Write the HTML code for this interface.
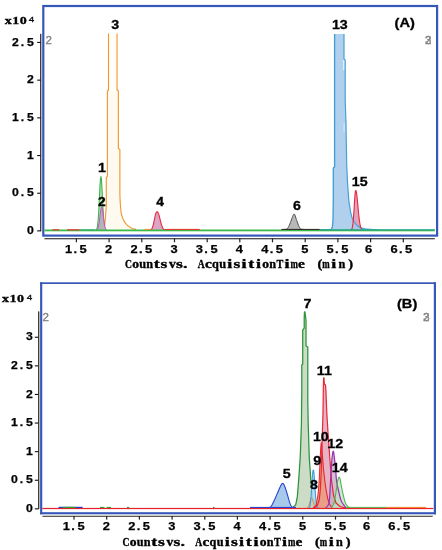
<!DOCTYPE html>
<html><head><meta charset="utf-8"><title>Chromatogram</title>
<style>
html,body{margin:0;padding:0;background:#fff}
#w{position:relative;width:442px;height:550px;overflow:hidden;background:#fff}
svg{display:block;position:absolute;left:0;top:0}
.t{position:absolute;line-height:0;height:0;white-space:pre;font-weight:bold;color:#000}
.s{font-family:"Liberation Sans",sans-serif;-webkit-text-stroke:0.3px currentColor}
.n{-webkit-text-stroke:0.25px #000}
.f{font-family:"Liberation Serif",serif;-webkit-text-stroke:0.35px #000}
.g{display:inline-block;width:4px;line-height:0;white-space:pre;overflow:visible}
</style>
</head><body>
<div id="w">
<svg width="442" height="550" viewBox="0 0 442 550">
<rect x="0" y="0" width="442" height="550" fill="#fff"/>
<rect x="43.3" y="6" width="393.8" height="229.6" fill="#fff" stroke="#3558b8" stroke-width="2.2"/>
<path d="M96.00,230.30 L103.50,229.80 L104.60,226.00 L105.40,218.00 L106.00,210.00 L106.30,204.00 L106.30,177.50 L107.40,176.50 L107.40,91.00 L118.35,91.00 L118.35,148.50 L119.90,149.50 L119.90,195.00 L120.30,204.00 L121.10,212.60 L122.50,218.00 L124.70,222.20 L127.00,225.00 L129.50,226.90 L132.00,228.50 L136.00,229.40 Z" fill="#fefaef"/>
<path d="M108.5,33.5 L108.5,90.5 L117.05,90.5 L117.05,33.5 Z" fill="#fffdf8"/>
<path d="M96.00,230.30 L103.50,229.80 L104.60,226.00 L105.40,218.00 L106.00,210.00 L106.30,204.00 L106.30,177.50 L107.40,176.50 L107.40,91.00 L108.50,90.00 L108.50,33.50" fill="none" stroke="#f0952a" stroke-width="1.1" stroke-linejoin="round"/>
<path d="M117.05,33.50 L117.05,90.00 L118.35,91.00 L118.35,148.50 L119.90,149.50 L119.90,195.00 L120.30,204.00 L121.10,212.60 L122.50,218.00 L124.70,222.20 L127.00,225.00 L129.50,226.90 L132.00,228.50 L136.00,229.40" fill="none" stroke="#f0952a" stroke-width="1.1" stroke-linejoin="round"/>
<path d="M95.50,230.22 L96.00,230.04 L96.50,229.57 L97.00,228.47 L97.50,226.18 L98.00,222.00 L98.50,215.34 L99.00,206.18 L99.50,195.50 L100.00,185.36 L100.50,178.38 L101.00,176.61 L101.50,180.38 L102.00,188.48 L102.50,198.72 L103.00,208.81 L103.50,217.12 L104.00,223.02 L104.50,226.67 L105.00,228.67 L105.50,229.64 L106.00,230.06 L106.00,230.30 L95.50,230.30 Z" fill="#b9e6b9" fill-opacity="1.0" stroke="none"/>
<path d="M95.50,230.22 L96.00,230.04 L96.50,229.57 L97.00,228.47 L97.50,226.18 L98.00,222.00 L98.50,215.34 L99.00,206.18 L99.50,195.50 L100.00,185.36 L100.50,178.38 L101.00,176.61 L101.50,180.38 L102.00,188.48 L102.50,198.72 L103.00,208.81 L103.50,217.12 L104.00,223.02 L104.50,226.67 L105.00,228.67 L105.50,229.64 L106.00,230.06" fill="none" stroke="#3cb44b" stroke-width="1.1" stroke-linejoin="round"/>
<path d="M95.84,230.26 L96.34,230.20 L96.84,230.02 L97.34,229.63 L97.84,228.83 L98.34,227.38 L98.84,225.04 L99.34,221.71 L99.84,217.58 L100.34,213.21 L100.84,209.49 L101.34,207.31 L101.84,207.23 L102.34,209.11 L102.84,212.44 L103.34,216.50 L103.84,220.52 L104.34,223.94 L104.84,226.51 L105.34,228.23 L105.84,229.26 L106.34,229.82 L106.84,230.10 L107.34,230.22 L107.34,230.30 L95.84,230.30 Z" fill="#b4b4b8" fill-opacity="1.0" stroke="none"/>
<path d="M95.84,230.26 L96.34,230.20 L96.84,230.02 L97.34,229.63 L97.84,228.83 L98.34,227.38 L98.84,225.04 L99.34,221.71 L99.84,217.58 L100.34,213.21 L100.84,209.49 L101.34,207.31 L101.84,207.23 L102.34,209.11 L102.84,212.44 L103.34,216.50 L103.84,220.52 L104.34,223.94 L104.84,226.51 L105.34,228.23 L105.84,229.26 L106.34,229.82 L106.84,230.10 L107.34,230.22" fill="none" stroke="#c850c8" stroke-width="1.0" stroke-linejoin="round"/>
<path d="M148.00,230.30 L148.50,230.29 L149.00,230.27 L149.50,230.23 L150.00,230.15 L150.50,229.99 L151.00,229.70 L151.50,229.21 L152.00,228.43 L152.50,227.29 L153.00,225.74 L153.50,223.78 L154.00,221.49 L154.50,219.02 L155.00,216.60 L155.50,214.49 L156.00,212.90 L156.50,211.97 L157.00,211.70 L157.50,211.88 L158.00,212.51 L158.50,213.62 L159.00,215.15 L159.50,216.99 L160.00,219.02 L160.50,221.08 L161.00,223.05 L161.50,224.81 L162.00,226.31 L162.50,227.51 L163.00,228.43 L163.50,229.10 L164.00,229.56 L164.50,229.86 L165.00,230.05 L165.50,230.17 L166.00,230.23 L166.50,230.27 L167.00,230.28 L167.50,230.29 L167.50,230.30 L148.00,230.30 Z" fill="#dca5c8" fill-opacity="1.0" stroke="none"/>
<path d="M148.00,230.30 L148.50,230.29 L149.00,230.27 L149.50,230.23 L150.00,230.15 L150.50,229.99 L151.00,229.70 L151.50,229.21 L152.00,228.43 L152.50,227.29 L153.00,225.74 L153.50,223.78 L154.00,221.49 L154.50,219.02 L155.00,216.60 L155.50,214.49 L156.00,212.90 L156.50,211.97 L157.00,211.70 L157.50,211.88 L158.00,212.51 L158.50,213.62 L159.00,215.15 L159.50,216.99 L160.00,219.02 L160.50,221.08 L161.00,223.05 L161.50,224.81 L162.00,226.31 L162.50,227.51 L163.00,228.43 L163.50,229.10 L164.00,229.56 L164.50,229.86 L165.00,230.05 L165.50,230.17 L166.00,230.23 L166.50,230.27 L167.00,230.28 L167.50,230.29" fill="none" stroke="#e8283c" stroke-width="1.1" stroke-linejoin="round"/>
<path d="M284.00,229.40 L284.49,229.38 L285.19,229.36 L285.95,229.29 L286.60,229.10 L287.08,228.82 L287.49,228.46 L287.88,227.98 L288.30,227.30 L288.78,226.39 L289.28,225.28 L289.79,224.06 L290.30,222.80 L290.82,221.43 L291.35,219.94 L291.86,218.50 L292.30,217.30 L292.67,216.38 L292.99,215.64 L293.26,215.06 L293.50,214.60 L293.69,214.26 L293.82,214.07 L293.95,213.99 L294.10,214.00 L294.27,214.06 L294.44,214.18 L294.65,214.47 L294.90,215.00 L295.22,215.88 L295.60,217.03 L296.00,218.29 L296.40,219.50 L296.80,220.65 L297.20,221.82 L297.60,222.95 L298.00,224.00 L298.38,224.97 L298.76,225.88 L299.13,226.70 L299.50,227.40 L299.84,227.98 L300.16,228.44 L300.52,228.81 L301.00,229.10 L301.71,229.28 L302.59,229.36 L303.43,229.38 L304.00,229.40 L304.00,230.30 L284.00,230.30 Z" fill="#b8b8b8" fill-opacity="1.0" stroke="none"/>
<path d="M284.00,229.40 L284.49,229.38 L285.19,229.36 L285.95,229.29 L286.60,229.10 L287.08,228.82 L287.49,228.46 L287.88,227.98 L288.30,227.30 L288.78,226.39 L289.28,225.28 L289.79,224.06 L290.30,222.80 L290.82,221.43 L291.35,219.94 L291.86,218.50 L292.30,217.30 L292.67,216.38 L292.99,215.64 L293.26,215.06 L293.50,214.60 L293.69,214.26 L293.82,214.07 L293.95,213.99 L294.10,214.00 L294.27,214.06 L294.44,214.18 L294.65,214.47 L294.90,215.00 L295.22,215.88 L295.60,217.03 L296.00,218.29 L296.40,219.50 L296.80,220.65 L297.20,221.82 L297.60,222.95 L298.00,224.00 L298.38,224.97 L298.76,225.88 L299.13,226.70 L299.50,227.40 L299.84,227.98 L300.16,228.44 L300.52,228.81 L301.00,229.10 L301.71,229.28 L302.59,229.36 L303.43,229.38 L304.00,229.40" fill="none" stroke="#505050" stroke-width="1.0" stroke-linejoin="round"/>
<path d="M350.48,230.24 L350.98,230.10 L351.48,229.72 L351.98,228.81 L352.48,226.89 L352.98,223.40 L353.48,217.88 L353.98,210.46 L354.48,202.15 L354.98,194.85 L355.48,190.66 L355.98,190.52 L356.48,192.64 L356.98,196.44 L357.48,201.39 L357.98,206.86 L358.48,212.25 L358.98,217.10 L359.48,221.14 L359.98,224.26 L360.48,226.52 L360.98,228.05 L361.48,229.03 L361.98,229.62 L362.48,229.95 L362.98,230.13 L363.48,230.22 L363.48,230.30 L350.48,230.30 Z" fill="#e3a3bc"/>
<path d="M320.00,229.80 L331.00,229.50 L332.40,227.00 L333.00,220.00 L333.30,200.00 L333.30,168.00 L334.60,167.00 L334.60,34.00 L344.00,34.00 L344.00,59.00 L345.20,60.00 L345.20,100.00 L346.00,124.00 L346.70,164.70 L347.60,183.80 L348.80,200.60 L350.70,212.60 L352.30,218.50 L354.30,222.00 L357.00,225.50 L360.00,227.50 L365.00,228.80 L378.00,230.00 Z" fill="#a6c9ec" fill-opacity="0.88"/>
<path d="M320.00,229.80 L331.00,229.50 L332.40,227.00 L333.00,220.00 L333.30,200.00 L333.30,168.00 L334.60,167.00 L334.60,34.00" fill="none" stroke="#3f9fd4" stroke-width="1.35" stroke-linejoin="round"/>
<path d="M344.00,34.00 L344.00,59.00 L345.20,60.00 L345.20,100.00 L346.00,124.00 L346.70,164.70 L347.60,183.80 L348.80,200.60 L350.70,212.60 L352.30,218.50 L354.30,222.00 L357.00,225.50 L360.00,227.50 L365.00,228.80 L378.00,230.00" fill="none" stroke="#45a2d6" stroke-width="1.2" stroke-linejoin="round"/>
<rect x="343.2" y="60" width="1" height="10" fill="#eef6fc"/>
<rect x="343.6" y="123" width="1" height="9" fill="#dcebf8"/>
<path d="M350.48,230.24 L350.98,230.10 L351.48,229.72 L351.98,228.81 L352.48,226.89 L352.98,223.40 L353.48,217.88 L353.98,210.46 L354.48,202.15 L354.98,194.85 L355.48,190.66 L355.98,190.52 L356.48,192.64 L356.98,196.44 L357.48,201.39 L357.98,206.86 L358.48,212.25 L358.98,217.10 L359.48,221.14 L359.98,224.26 L360.48,226.52 L360.98,228.05 L361.48,229.03 L361.98,229.62 L362.48,229.95 L362.98,230.13 L363.48,230.22" fill="none" stroke="#e8283c" stroke-width="1.1" stroke-linejoin="round"/>
<rect x="44.4" y="229.5" width="390.4" height="1.8" fill="#3cba46"/>
<rect x="320" y="229.3" width="114.8" height="1.1" fill="#1fa59a"/>
<rect x="80" y="229.3" width="15" height="1.1" fill="#2fae80"/>
<rect x="52.4" y="229.2" width="6.8" height="1.2" fill="#e8382c"/>
<rect x="67.1" y="229.2" width="12.5" height="1.2" fill="#e8382c"/>
<rect x="165" y="228.9" width="34.7" height="1.1" fill="#e8382c"/>
<rect x="281.4" y="228.9" width="38.3" height="1.1" fill="#303030"/>
<rect x="144.5" y="228.9" width="6" height="1.0" fill="#f0952a"/>
<rect x="40.2" y="33.8" width="1.1" height="197.5" fill="#111"/>
<rect x="37.2" y="41.9" width="3.5" height="1.1" fill="#111"/>
<rect x="37.2" y="79.6" width="3.5" height="1.1" fill="#111"/>
<rect x="37.2" y="117.3" width="3.5" height="1.1" fill="#111"/>
<rect x="37.2" y="155.0" width="3.5" height="1.1" fill="#111"/>
<rect x="37.2" y="192.7" width="3.5" height="1.1" fill="#111"/>
<rect x="37.2" y="230.3" width="3.5" height="1.1" fill="#111"/>
<rect x="44.5" y="238.1" width="390.3" height="1.2" fill="#3a3a3a"/>
<rect x="75.8" y="238.5" width="1.2" height="3.8" fill="#222"/>
<rect x="108.5" y="238.5" width="1.2" height="3.8" fill="#222"/>
<rect x="141.2" y="238.5" width="1.2" height="3.8" fill="#222"/>
<rect x="173.9" y="238.5" width="1.2" height="3.8" fill="#222"/>
<rect x="206.6" y="238.5" width="1.2" height="3.8" fill="#222"/>
<rect x="239.2" y="238.5" width="1.2" height="3.8" fill="#222"/>
<rect x="271.9" y="238.5" width="1.2" height="3.8" fill="#222"/>
<rect x="304.6" y="238.5" width="1.2" height="3.8" fill="#222"/>
<rect x="337.3" y="238.5" width="1.2" height="3.8" fill="#222"/>
<rect x="370.0" y="238.5" width="1.2" height="3.8" fill="#222"/>
<rect x="402.7" y="238.5" width="1.2" height="3.8" fill="#222"/>
<rect x="40.1" y="282.3" width="395.9" height="1.7" fill="#3558b8"/>
<rect x="40.1" y="512.2" width="395.9" height="2.1" fill="#3558b8"/>
<rect x="40.1" y="282.3" width="2.15" height="232" fill="#3558b8"/>
<rect x="433.8" y="282.3" width="2.2" height="232" fill="#3558b8"/>
<path d="M266.00,507.80 L266.50,507.77 L267.22,507.74 L268.04,507.68 L268.84,507.58 L269.50,507.40 L270.00,507.16 L270.41,506.87 L270.77,506.52 L271.12,506.10 L271.50,505.60 L271.89,505.03 L272.28,504.38 L272.66,503.66 L273.07,502.87 L273.50,502.00 L273.96,501.05 L274.44,500.01 L274.94,498.90 L275.46,497.73 L276.00,496.50 L276.58,495.15 L277.21,493.68 L277.85,492.18 L278.46,490.75 L279.00,489.50 L279.47,488.43 L279.89,487.47 L280.28,486.61 L280.64,485.86 L281.00,485.20 L281.35,484.63 L281.68,484.15 L281.99,483.77 L282.30,483.52 L282.60,483.40 L282.89,483.44 L283.17,483.62 L283.44,483.92 L283.72,484.32 L284.00,484.80 L284.29,485.35 L284.57,485.98 L284.86,486.71 L285.17,487.54 L285.50,488.50 L285.87,489.62 L286.26,490.88 L286.68,492.24 L287.09,493.64 L287.50,495.00 L287.91,496.39 L288.32,497.84 L288.74,499.28 L289.13,500.63 L289.50,501.80 L289.82,502.78 L290.11,503.63 L290.39,504.37 L290.68,505.02 L291.00,505.60 L291.34,506.11 L291.67,506.53 L292.03,506.88 L292.46,507.16 L293.00,507.40 L293.74,507.58 L294.65,507.68 L295.59,507.74 L296.42,507.77 L297.00,507.80 L297.00,508.40 L266.00,508.40 Z" fill="#a6c9ec" fill-opacity="1.0" stroke="none"/>
<path d="M266.00,507.80 L266.50,507.77 L267.22,507.74 L268.04,507.68 L268.84,507.58 L269.50,507.40 L270.00,507.16 L270.41,506.87 L270.77,506.52 L271.12,506.10 L271.50,505.60 L271.89,505.03 L272.28,504.38 L272.66,503.66 L273.07,502.87 L273.50,502.00 L273.96,501.05 L274.44,500.01 L274.94,498.90 L275.46,497.73 L276.00,496.50 L276.58,495.15 L277.21,493.68 L277.85,492.18 L278.46,490.75 L279.00,489.50 L279.47,488.43 L279.89,487.47 L280.28,486.61 L280.64,485.86 L281.00,485.20 L281.35,484.63 L281.68,484.15 L281.99,483.77 L282.30,483.52 L282.60,483.40 L282.89,483.44 L283.17,483.62 L283.44,483.92 L283.72,484.32 L284.00,484.80 L284.29,485.35 L284.57,485.98 L284.86,486.71 L285.17,487.54 L285.50,488.50 L285.87,489.62 L286.26,490.88 L286.68,492.24 L287.09,493.64 L287.50,495.00 L287.91,496.39 L288.32,497.84 L288.74,499.28 L289.13,500.63 L289.50,501.80 L289.82,502.78 L290.11,503.63 L290.39,504.37 L290.68,505.02 L291.00,505.60 L291.34,506.11 L291.67,506.53 L292.03,506.88 L292.46,507.16 L293.00,507.40 L293.74,507.58 L294.65,507.68 L295.59,507.74 L296.42,507.77 L297.00,507.80" fill="none" stroke="#2846d2" stroke-width="1.1" stroke-linejoin="round"/>
<path d="M292.00,508.10 L295.70,504.80 L297.30,497.00 L298.60,481.00 L300.20,458.00 L301.40,424.00 L301.80,390.00 L301.80,365.00 L302.70,364.00 L302.70,330.00 L304.20,328.00 L304.20,318.00 L304.50,311.80 L304.90,311.80 L306.00,320.00 L306.00,346.00 L307.80,347.00 L307.80,400.00 L308.20,424.00 L309.30,458.00 L310.90,481.00 L312.70,497.00 L315.50,504.80 L319.00,508.10 L319.00,508.40 L292.00,508.40 Z" fill="#ccdcc6" fill-opacity="1.0" stroke="none"/>
<path d="M292.00,508.10 L295.70,504.80 L297.30,497.00 L298.60,481.00 L300.20,458.00 L301.40,424.00 L301.80,390.00 L301.80,365.00 L302.70,364.00 L302.70,330.00 L304.20,328.00 L304.20,318.00 L304.50,311.80 L304.90,311.80 L306.00,320.00 L306.00,346.00 L307.80,347.00 L307.80,400.00 L308.20,424.00 L309.30,458.00 L310.90,481.00 L312.70,497.00 L315.50,504.80 L319.00,508.10" fill="none" stroke="#2a9438" stroke-width="1.25" stroke-linejoin="round"/>
<path d="M308.08,508.34 L308.58,508.21 L309.08,507.84 L309.58,506.95 L310.08,505.10 L310.58,501.70 L311.08,496.35 L311.58,489.15 L312.08,481.10 L312.58,474.01 L313.08,469.95 L313.58,470.17 L314.08,474.42 L314.58,481.37 L315.08,489.16 L315.58,496.15 L316.08,501.42 L316.58,504.84 L317.08,506.77 L317.58,507.74 L318.08,508.16 L318.58,508.32 L318.58,508.40 L308.08,508.40 Z" fill="#b4d7f0" fill-opacity="0.9"/>
<path d="M305.38,508.38 L305.88,508.36 L306.38,508.29 L306.88,508.14 L307.38,507.84 L307.88,507.30 L308.38,506.43 L308.88,505.17 L309.38,503.53 L309.88,501.67 L310.38,499.87 L310.88,498.48 L311.38,497.83 L311.88,498.06 L312.38,499.13 L312.88,500.78 L313.38,502.65 L313.88,504.42 L314.38,505.88 L314.88,506.93 L315.38,507.62 L315.88,508.02 L316.38,508.23 L316.88,508.33 L317.38,508.37 L317.38,508.40 L305.38,508.40 Z" fill="#d8c8a0" fill-opacity="0.7"/>
<path d="M314.00,508.10 L317.50,505.00 L319.20,500.00 L320.30,490.00 L321.30,470.00 L322.30,435.50 L323.00,412.70 L323.30,390.00 L323.60,377.80 L324.00,377.80 L324.30,384.00 L325.50,385.00 L325.90,390.00 L326.80,412.70 L328.20,435.50 L329.80,458.00 L331.60,481.00 L333.50,495.00 L336.00,503.00 L340.00,506.50 L346.00,508.10 L346.00,508.40 L314.00,508.40 Z" fill="#e3a3bc" fill-opacity="0.85"/>
<path d="M313.00,508.10 L316.00,505.50 L317.70,497.00 L318.50,490.00 L319.20,481.00 L320.20,458.00 L320.90,446.00 L321.20,442.50 L321.60,446.00 L322.60,458.00 L323.60,470.00 L324.80,481.00 L326.20,490.50 L327.80,499.00 L329.50,504.00 L332.00,507.90 L332.00,508.40 L313.00,508.40 Z" fill="#ea9a78" fill-opacity="0.8"/>
<path d="M325.50,508.00 L325.98,507.62 L326.66,507.09 L327.39,506.39 L328.00,505.50 L328.43,504.63 L328.79,503.72 L329.10,502.32 L329.40,500.00 L329.69,496.43 L329.96,491.91 L330.22,486.93 L330.50,482.00 L330.80,476.86 L331.11,471.38 L331.42,466.20 L331.70,462.00 L331.95,459.03 L332.19,456.92 L332.40,455.35 L332.60,454.00 L332.77,452.83 L332.91,451.98 L333.05,451.47 L333.20,451.30 L333.35,451.33 L333.49,451.61 L333.66,452.40 L333.90,454.00 L334.25,456.73 L334.67,460.36 L335.11,464.31 L335.50,468.00 L335.79,471.39 L336.02,474.75 L336.27,477.98 L336.60,481.00 L337.04,483.76 L337.54,486.31 L338.08,488.71 L338.60,491.00 L339.10,493.22 L339.59,495.34 L340.09,497.29 L340.60,499.00 L341.09,500.38 L341.57,501.48 L342.09,502.47 L342.70,503.50 L343.52,504.69 L344.48,505.93 L345.38,507.03 L346.00,507.80 L346.00,508.40 L325.50,508.40 Z" fill="#c4b0c4" fill-opacity="0.8"/>
<path d="M331.00,508.00 L331.48,507.39 L332.18,506.53 L332.91,505.53 L333.50,504.50 L333.87,503.53 L334.12,502.53 L334.34,501.39 L334.60,500.00 L334.93,498.29 L335.28,496.34 L335.64,494.22 L336.00,492.00 L336.38,489.50 L336.77,486.75 L337.16,484.12 L337.50,482.00 L337.79,480.50 L338.06,479.43 L338.29,478.63 L338.50,478.00 L338.67,477.53 L338.81,477.27 L338.94,477.18 L339.10,477.20 L339.30,477.28 L339.53,477.46 L339.76,477.83 L340.00,478.50 L340.24,479.56 L340.48,480.93 L340.73,482.46 L341.00,484.00 L341.28,485.58 L341.58,487.25 L341.89,488.92 L342.20,490.50 L342.52,491.96 L342.84,493.34 L343.17,494.68 L343.50,496.00 L343.82,497.31 L344.12,498.59 L344.45,499.83 L344.80,501.00 L345.17,502.10 L345.54,503.14 L345.97,504.11 L346.50,505.00 L347.23,505.83 L348.11,506.60 L348.93,507.25 L349.50,507.70 L349.50,508.40 L331.00,508.40 Z" fill="#c3e3c3" fill-opacity="0.75"/>
<path d="M305.38,508.38 L305.88,508.36 L306.38,508.29 L306.88,508.14 L307.38,507.84 L307.88,507.30 L308.38,506.43 L308.88,505.17 L309.38,503.53 L309.88,501.67 L310.38,499.87 L310.88,498.48 L311.38,497.83 L311.88,498.06 L312.38,499.13 L312.88,500.78 L313.38,502.65 L313.88,504.42 L314.38,505.88 L314.88,506.93 L315.38,507.62 L315.88,508.02 L316.38,508.23 L316.88,508.33 L317.38,508.37" fill="none" stroke="#c89048" stroke-width="0.9" stroke-linejoin="round"/>
<path d="M308.08,508.34 L308.58,508.21 L309.08,507.84 L309.58,506.95 L310.08,505.10 L310.58,501.70 L311.08,496.35 L311.58,489.15 L312.08,481.10 L312.58,474.01 L313.08,469.95 L313.58,470.17 L314.08,474.42 L314.58,481.37 L315.08,489.16 L315.58,496.15 L316.08,501.42 L316.58,504.84 L317.08,506.77 L317.58,507.74 L318.08,508.16 L318.58,508.32" fill="none" stroke="#3c9cdc" stroke-width="1.1" stroke-linejoin="round"/>
<path d="M314.00,508.10 L317.50,505.00 L319.20,500.00 L320.30,490.00 L321.30,470.00 L322.30,435.50 L323.00,412.70 L323.30,390.00 L323.60,377.80 L324.00,377.80 L324.30,384.00 L325.50,385.00 L325.90,390.00 L326.80,412.70 L328.20,435.50 L329.80,458.00 L331.60,481.00 L333.50,495.00 L336.00,503.00 L340.00,506.50 L346.00,508.10" fill="none" stroke="#e62832" stroke-width="1.2" stroke-linejoin="round"/>
<path d="M313.00,508.10 L316.00,505.50 L317.70,497.00 L318.50,490.00 L319.20,481.00 L320.20,458.00 L320.90,446.00 L321.20,442.50 L321.60,446.00 L322.60,458.00 L323.60,470.00 L324.80,481.00 L326.20,490.50 L327.80,499.00 L329.50,504.00 L332.00,507.90" fill="none" stroke="#e62832" stroke-width="1.1" stroke-linejoin="round"/>
<path d="M325.50,508.00 L325.98,507.62 L326.66,507.09 L327.39,506.39 L328.00,505.50 L328.43,504.63 L328.79,503.72 L329.10,502.32 L329.40,500.00 L329.69,496.43 L329.96,491.91 L330.22,486.93 L330.50,482.00 L330.80,476.86 L331.11,471.38 L331.42,466.20 L331.70,462.00 L331.95,459.03 L332.19,456.92 L332.40,455.35 L332.60,454.00 L332.77,452.83 L332.91,451.98 L333.05,451.47 L333.20,451.30 L333.35,451.33 L333.49,451.61 L333.66,452.40 L333.90,454.00 L334.25,456.73 L334.67,460.36 L335.11,464.31 L335.50,468.00 L335.79,471.39 L336.02,474.75 L336.27,477.98 L336.60,481.00 L337.04,483.76 L337.54,486.31 L338.08,488.71 L338.60,491.00 L339.10,493.22 L339.59,495.34 L340.09,497.29 L340.60,499.00 L341.09,500.38 L341.57,501.48 L342.09,502.47 L342.70,503.50 L343.52,504.69 L344.48,505.93 L345.38,507.03 L346.00,507.80" fill="none" stroke="#9a32b4" stroke-width="1.25" stroke-linejoin="round"/>
<path d="M331.00,508.00 L331.48,507.39 L332.18,506.53 L332.91,505.53 L333.50,504.50 L333.87,503.53 L334.12,502.53 L334.34,501.39 L334.60,500.00 L334.93,498.29 L335.28,496.34 L335.64,494.22 L336.00,492.00 L336.38,489.50 L336.77,486.75 L337.16,484.12 L337.50,482.00 L337.79,480.50 L338.06,479.43 L338.29,478.63 L338.50,478.00 L338.67,477.53 L338.81,477.27 L338.94,477.18 L339.10,477.20 L339.30,477.28 L339.53,477.46 L339.76,477.83 L340.00,478.50 L340.24,479.56 L340.48,480.93 L340.73,482.46 L341.00,484.00 L341.28,485.58 L341.58,487.25 L341.89,488.92 L342.20,490.50 L342.52,491.96 L342.84,493.34 L343.17,494.68 L343.50,496.00 L343.82,497.31 L344.12,498.59 L344.45,499.83 L344.80,501.00 L345.17,502.10 L345.54,503.14 L345.97,504.11 L346.50,505.00 L347.23,505.83 L348.11,506.60 L348.93,507.25 L349.50,507.70" fill="none" stroke="#50b450" stroke-width="1.1" stroke-linejoin="round"/>
<rect x="42.3" y="507.9" width="391" height="1.2" fill="#e8202a"/>
<rect x="58.6" y="506.8" width="24" height="1.2" fill="#2040d0"/>
<rect x="62.6" y="506.8" width="13" height="1.2" fill="#30a030"/>
<rect x="100" y="506.9" width="4.5" height="1.1" fill="#30a030"/>
<rect x="106.7" y="506.9" width="4.3" height="1.1" fill="#30a030"/>
<rect x="127" y="506.9" width="2.2" height="1.1" fill="#30a030"/>
<rect x="213" y="506.9" width="1.5" height="1.1" fill="#30a030"/>
<rect x="250" y="506.9" width="46" height="1.1" fill="#2846d2"/>
<rect x="346" y="506.9" width="40" height="1.0" fill="#58b048"/>
<rect x="386" y="506.9" width="40" height="1.0" fill="#f08020"/>
<rect x="38.2" y="311.4" width="1.1" height="197.7" fill="#111"/>
<rect x="34.8" y="336.7" width="3.6" height="1.1" fill="#111"/>
<rect x="34.8" y="365.3" width="3.6" height="1.1" fill="#111"/>
<rect x="34.8" y="393.9" width="3.6" height="1.1" fill="#111"/>
<rect x="34.8" y="422.5" width="3.6" height="1.1" fill="#111"/>
<rect x="34.8" y="451.1" width="3.6" height="1.1" fill="#111"/>
<rect x="34.8" y="479.7" width="3.6" height="1.1" fill="#111"/>
<rect x="34.8" y="508.3" width="3.6" height="1.1" fill="#111"/>
<rect x="42.4" y="515.7" width="390.3" height="1.3" fill="#5a5a50"/>
<rect x="73.4" y="516" width="1.2" height="3.6" fill="#222"/>
<rect x="106.1" y="516" width="1.2" height="3.6" fill="#222"/>
<rect x="138.8" y="516" width="1.2" height="3.6" fill="#222"/>
<rect x="171.5" y="516" width="1.2" height="3.6" fill="#222"/>
<rect x="204.2" y="516" width="1.2" height="3.6" fill="#222"/>
<rect x="236.8" y="516" width="1.2" height="3.6" fill="#222"/>
<rect x="269.5" y="516" width="1.2" height="3.6" fill="#222"/>
<rect x="302.2" y="516" width="1.2" height="3.6" fill="#222"/>
<rect x="334.9" y="516" width="1.2" height="3.6" fill="#222"/>
<rect x="367.6" y="516" width="1.2" height="3.6" fill="#222"/>
<rect x="400.3" y="516" width="1.2" height="3.6" fill="#222"/>
</svg>
<div class="t s" style="left:98px;top:167.68px;font-size:13.3px;font-weight:bold;color:#000;transform:translateX(0.20px) scaleX(1.07)">1</div>
<div class="t s" style="left:98px;top:201.53px;font-size:12.6px;font-weight:bold;color:#000;transform:translateX(0.45px) scaleX(1.1)">2</div>
<div class="t s" style="left:111px;top:25.48px;font-size:13.3px;font-weight:bold;color:#000;transform:translateX(0.60px) scaleX(1.07)">3</div>
<div class="t s" style="left:156px;top:202.13px;font-size:12.6px;font-weight:bold;color:#000;transform:translateX(0.60px) scaleX(1.1)">4</div>
<div class="t s" style="left:293px;top:206.38px;font-size:13.3px;font-weight:bold;color:#000;transform:translateX(0.20px) scaleX(1.07)">6</div>
<div class="t s" style="left:332px;top:25.48px;font-size:13.3px;font-weight:bold;color:#000;transform:translateX(0.40px) scaleX(1.07)">13</div>
<div class="t s" style="left:352px;top:182.28px;font-size:13.3px;font-weight:bold;color:#000;transform:translateX(0.25px) scaleX(1.07)">15</div>
<div class="t s" style="left:395px;top:23.08px;font-size:13.3px;font-weight:bold;color:#000;transform:translateX(0.52px) scaleX(1.1)">(A)</div>
<div class="t s" style="left:282px;top:474.08px;font-size:13.3px;font-weight:bold;color:#000;transform:translateX(0.90px) scaleX(1.07)">5</div>
<div class="t s" style="left:303px;top:303.98px;font-size:13.3px;font-weight:bold;color:#000;transform:translateX(0.70px) scaleX(1.07)">7</div>
<div class="t s" style="left:310px;top:485.48px;font-size:13.3px;font-weight:bold;color:#000;transform:translateX(0.30px) scaleX(1.07)">8</div>
<div class="t s" style="left:313px;top:461.48px;font-size:13.3px;font-weight:bold;color:#000;transform:translateX(0.40px) scaleX(1.07)">9</div>
<div class="t s" style="left:313px;top:437.38px;font-size:13.3px;font-weight:bold;color:#000;transform:translateX(0.45px) scaleX(1.07)">10</div>
<div class="t s" style="left:317px;top:371.08px;font-size:13.3px;font-weight:bold;color:#000;transform:translateX(0.32px) scaleX(1.07)">11</div>
<div class="t s" style="left:327px;top:443.68px;font-size:13.3px;font-weight:bold;color:#000;transform:translateX(0.80px) scaleX(1.07)">12</div>
<div class="t s" style="left:332px;top:468.38px;font-size:13.3px;font-weight:bold;color:#000;transform:translateX(0.30px) scaleX(1.07)">14</div>
<div class="t s" style="left:397px;top:303.68px;font-size:13.3px;font-weight:bold;color:#000;transform:translateX(0.87px) scaleX(1.1)">(B)</div>
<div class="t s" style="left:45px;top:40.26px;font-size:10.5px;font-weight:normal;color:#808080;transform:translateX(0.78px) scaleX(1.1)">2</div>
<div class="t s" style="left:425px;top:39.76px;font-size:10.5px;font-weight:normal;color:#888888;transform:translateX(0.18px) scaleX(1.1)">2</div>
<div class="t s" style="left:425px;top:39.76px;font-size:10.5px;font-weight:normal;color:#888888;transform:translateX(0.38px) scaleX(1.1)">3</div>
<div class="t s" style="left:42px;top:317.26px;font-size:10.5px;font-weight:normal;color:#808080;transform:translateX(0.88px) scaleX(1.1)">2</div>
<div class="t s" style="left:423px;top:316.66px;font-size:10.5px;font-weight:normal;color:#888888;transform:translateX(0.28px) scaleX(1.1)">2</div>
<div class="t s" style="left:423px;top:316.66px;font-size:10.5px;font-weight:normal;color:#888888;transform:translateX(0.48px) scaleX(1.1)">3</div>
<div class="t s n" style="left:11px;top:41.55px;font-size:10.8px;color:#000"><span class="g" style="margin-left:1px;transform-origin:3.00px 50%;transform:translateX(0.45px) scaleX(1.130)">2</span><span class="g" style="margin-left:4px;transform-origin:1.50px 50%;transform:translateX(0.85px) scaleX(1.130)">.</span><span class="g" style="margin-left:3px;transform-origin:3.00px 50%;transform:translateX(0.45px) scaleX(1.130)">5</span></div>
<div class="t s n" style="left:26px;top:79.25px;font-size:10.8px;color:#000"><span class="g" style="margin-left:1px;transform-origin:3.00px 50%;transform:translateX(0.45px) scaleX(1.130)">2</span></div>
<div class="t s n" style="left:11px;top:116.95px;font-size:10.8px;color:#000"><span class="g" style="margin-left:1px;transform-origin:3.00px 50%;transform:translateX(0.45px) scaleX(1.130)">1</span><span class="g" style="margin-left:4px;transform-origin:1.50px 50%;transform:translateX(0.85px) scaleX(1.130)">.</span><span class="g" style="margin-left:3px;transform-origin:3.00px 50%;transform:translateX(0.45px) scaleX(1.130)">5</span></div>
<div class="t s n" style="left:26px;top:154.65px;font-size:10.8px;color:#000"><span class="g" style="margin-left:1px;transform-origin:3.00px 50%;transform:translateX(0.45px) scaleX(1.130)">1</span></div>
<div class="t s n" style="left:11px;top:192.35px;font-size:10.8px;color:#000"><span class="g" style="margin-left:1px;transform-origin:3.00px 50%;transform:translateX(0.45px) scaleX(1.130)">0</span><span class="g" style="margin-left:4px;transform-origin:1.50px 50%;transform:translateX(0.85px) scaleX(1.130)">.</span><span class="g" style="margin-left:3px;transform-origin:3.00px 50%;transform:translateX(0.45px) scaleX(1.130)">5</span></div>
<div class="t s n" style="left:26px;top:229.95px;font-size:10.8px;color:#000"><span class="g" style="margin-left:1px;transform-origin:3.00px 50%;transform:translateX(0.45px) scaleX(1.130)">0</span></div>
<div class="t s n" style="left:25px;top:336.35px;font-size:10.8px;color:#000"><span class="g" style="margin-left:1px;transform-origin:3.00px 50%;transform:translateX(0.45px) scaleX(1.130)">3</span></div>
<div class="t s n" style="left:10px;top:364.95px;font-size:10.8px;color:#000"><span class="g" style="margin-left:1px;transform-origin:3.00px 50%;transform:translateX(0.45px) scaleX(1.130)">2</span><span class="g" style="margin-left:4px;transform-origin:1.50px 50%;transform:translateX(0.85px) scaleX(1.130)">.</span><span class="g" style="margin-left:3px;transform-origin:3.00px 50%;transform:translateX(0.45px) scaleX(1.130)">5</span></div>
<div class="t s n" style="left:25px;top:393.55px;font-size:10.8px;color:#000"><span class="g" style="margin-left:1px;transform-origin:3.00px 50%;transform:translateX(0.45px) scaleX(1.130)">2</span></div>
<div class="t s n" style="left:10px;top:422.15px;font-size:10.8px;color:#000"><span class="g" style="margin-left:1px;transform-origin:3.00px 50%;transform:translateX(0.45px) scaleX(1.130)">1</span><span class="g" style="margin-left:4px;transform-origin:1.50px 50%;transform:translateX(0.85px) scaleX(1.130)">.</span><span class="g" style="margin-left:3px;transform-origin:3.00px 50%;transform:translateX(0.45px) scaleX(1.130)">5</span></div>
<div class="t s n" style="left:25px;top:450.75px;font-size:10.8px;color:#000"><span class="g" style="margin-left:1px;transform-origin:3.00px 50%;transform:translateX(0.45px) scaleX(1.130)">1</span></div>
<div class="t s n" style="left:10px;top:479.35px;font-size:10.8px;color:#000"><span class="g" style="margin-left:1px;transform-origin:3.00px 50%;transform:translateX(0.45px) scaleX(1.130)">0</span><span class="g" style="margin-left:4px;transform-origin:1.50px 50%;transform:translateX(0.85px) scaleX(1.130)">.</span><span class="g" style="margin-left:3px;transform-origin:3.00px 50%;transform:translateX(0.45px) scaleX(1.130)">5</span></div>
<div class="t s n" style="left:25px;top:507.95px;font-size:10.8px;color:#000"><span class="g" style="margin-left:1px;transform-origin:3.00px 50%;transform:translateX(0.45px) scaleX(1.130)">0</span></div>
<div class="t s n" style="left:64px;top:249.31px;font-size:11.5px;color:#000"><span class="g" style="margin-left:1px;transform-origin:3.20px 50%;transform:translateX(0.40px) scaleX(1.120)">1</span><span class="g" style="margin-left:4px;transform-origin:1.60px 50%;transform:translateX(0.70px) scaleX(1.120)">.</span><span class="g" style="margin-left:3px;transform-origin:3.20px 50%;transform:translateX(0.00px) scaleX(1.120)">5</span></div>
<div class="t s n" style="left:62px;top:526.31px;font-size:11.5px;color:#000"><span class="g" style="margin-left:1px;transform-origin:3.20px 50%;transform:translateX(0.20px) scaleX(1.120)">1</span><span class="g" style="margin-left:4px;transform-origin:1.60px 50%;transform:translateX(0.50px) scaleX(1.120)">.</span><span class="g" style="margin-left:2px;transform-origin:3.20px 50%;transform:translateX(0.80px) scaleX(1.120)">5</span></div>
<div class="t s n" style="left:104px;top:249.31px;font-size:11.5px;color:#000"><span class="g" style="margin-left:1px;transform-origin:3.20px 50%;transform:translateX(0.39px) scaleX(1.120)">2</span></div>
<div class="t s n" style="left:102px;top:526.31px;font-size:11.5px;color:#000"><span class="g" style="margin-left:1px;transform-origin:3.20px 50%;transform:translateX(0.20px) scaleX(1.120)">2</span></div>
<div class="t s n" style="left:130px;top:249.31px;font-size:11.5px;color:#000"><span class="g" style="margin-left:0px;transform-origin:3.20px 50%;transform:translateX(0.78px) scaleX(1.120)">2</span><span class="g" style="margin-left:5px;transform-origin:1.60px 50%;transform:translateX(0.08px) scaleX(1.120)">.</span><span class="g" style="margin-left:2px;transform-origin:3.20px 50%;transform:translateX(0.38px) scaleX(1.120)">5</span></div>
<div class="t s n" style="left:128px;top:526.31px;font-size:11.5px;color:#000"><span class="g" style="margin-left:0px;transform-origin:3.20px 50%;transform:translateX(0.60px) scaleX(1.120)">2</span><span class="g" style="margin-left:4px;transform-origin:1.60px 50%;transform:translateX(0.90px) scaleX(1.120)">.</span><span class="g" style="margin-left:3px;transform-origin:3.20px 50%;transform:translateX(0.20px) scaleX(1.120)">5</span></div>
<div class="t s n" style="left:170px;top:249.31px;font-size:11.5px;color:#000"><span class="g" style="margin-left:0px;transform-origin:3.20px 50%;transform:translateX(0.77px) scaleX(1.120)">3</span></div>
<div class="t s n" style="left:168px;top:526.31px;font-size:11.5px;color:#000"><span class="g" style="margin-left:0px;transform-origin:3.20px 50%;transform:translateX(0.60px) scaleX(1.120)">3</span></div>
<div class="t s n" style="left:195px;top:249.31px;font-size:11.5px;color:#000"><span class="g" style="margin-left:1px;transform-origin:3.20px 50%;transform:translateX(0.16px) scaleX(1.120)">3</span><span class="g" style="margin-left:4px;transform-origin:1.60px 50%;transform:translateX(0.46px) scaleX(1.120)">.</span><span class="g" style="margin-left:2px;transform-origin:3.20px 50%;transform:translateX(0.76px) scaleX(1.120)">5</span></div>
<div class="t s n" style="left:193px;top:526.31px;font-size:11.5px;color:#000"><span class="g" style="margin-left:1px;transform-origin:3.20px 50%;transform:translateX(0.00px) scaleX(1.120)">3</span><span class="g" style="margin-left:4px;transform-origin:1.60px 50%;transform:translateX(0.30px) scaleX(1.120)">.</span><span class="g" style="margin-left:2px;transform-origin:3.20px 50%;transform:translateX(0.60px) scaleX(1.120)">5</span></div>
<div class="t s n" style="left:235px;top:249.31px;font-size:11.5px;color:#000"><span class="g" style="margin-left:1px;transform-origin:3.20px 50%;transform:translateX(0.15px) scaleX(1.120)">4</span></div>
<div class="t s n" style="left:233px;top:526.31px;font-size:11.5px;color:#000"><span class="g" style="margin-left:1px;transform-origin:3.20px 50%;transform:translateX(0.00px) scaleX(1.120)">4</span></div>
<div class="t s n" style="left:261px;top:249.31px;font-size:11.5px;color:#000"><span class="g" style="margin-left:0px;transform-origin:3.20px 50%;transform:translateX(0.54px) scaleX(1.120)">4</span><span class="g" style="margin-left:4px;transform-origin:1.60px 50%;transform:translateX(0.84px) scaleX(1.120)">.</span><span class="g" style="margin-left:3px;transform-origin:3.20px 50%;transform:translateX(0.14px) scaleX(1.120)">5</span></div>
<div class="t s n" style="left:258px;top:526.31px;font-size:11.5px;color:#000"><span class="g" style="margin-left:1px;transform-origin:3.20px 50%;transform:translateX(0.40px) scaleX(1.120)">4</span><span class="g" style="margin-left:4px;transform-origin:1.60px 50%;transform:translateX(0.70px) scaleX(1.120)">.</span><span class="g" style="margin-left:3px;transform-origin:3.20px 50%;transform:translateX(0.00px) scaleX(1.120)">5</span></div>
<div class="t s n" style="left:301px;top:249.31px;font-size:11.5px;color:#000"><span class="g" style="margin-left:0px;transform-origin:3.20px 50%;transform:translateX(0.53px) scaleX(1.120)">5</span></div>
<div class="t s n" style="left:298px;top:526.31px;font-size:11.5px;color:#000"><span class="g" style="margin-left:1px;transform-origin:3.20px 50%;transform:translateX(0.40px) scaleX(1.120)">5</span></div>
<div class="t s n" style="left:326px;top:249.31px;font-size:11.5px;color:#000"><span class="g" style="margin-left:0px;transform-origin:3.20px 50%;transform:translateX(0.92px) scaleX(1.120)">5</span><span class="g" style="margin-left:5px;transform-origin:1.60px 50%;transform:translateX(0.22px) scaleX(1.120)">.</span><span class="g" style="margin-left:2px;transform-origin:3.20px 50%;transform:translateX(0.52px) scaleX(1.120)">5</span></div>
<div class="t s n" style="left:324px;top:526.31px;font-size:11.5px;color:#000"><span class="g" style="margin-left:0px;transform-origin:3.20px 50%;transform:translateX(0.80px) scaleX(1.120)">5</span><span class="g" style="margin-left:5px;transform-origin:1.60px 50%;transform:translateX(0.10px) scaleX(1.120)">.</span><span class="g" style="margin-left:2px;transform-origin:3.20px 50%;transform:translateX(0.40px) scaleX(1.120)">5</span></div>
<div class="t s n" style="left:364px;top:249.31px;font-size:11.5px;color:#000"><span class="g" style="margin-left:1px;transform-origin:3.20px 50%;transform:translateX(0.41px) scaleX(1.120)">6</span></div>
<div class="t s n" style="left:362px;top:526.31px;font-size:11.5px;color:#000"><span class="g" style="margin-left:1px;transform-origin:3.20px 50%;transform:translateX(0.30px) scaleX(1.120)">6</span></div>
<div class="t s n" style="left:390px;top:249.31px;font-size:11.5px;color:#000"><span class="g" style="margin-left:0px;transform-origin:3.20px 50%;transform:translateX(0.80px) scaleX(1.120)">6</span><span class="g" style="margin-left:5px;transform-origin:1.60px 50%;transform:translateX(0.10px) scaleX(1.120)">.</span><span class="g" style="margin-left:2px;transform-origin:3.20px 50%;transform:translateX(0.40px) scaleX(1.120)">5</span></div>
<div class="t s n" style="left:388px;top:526.31px;font-size:11.5px;color:#000"><span class="g" style="margin-left:0px;transform-origin:3.20px 50%;transform:translateX(0.70px) scaleX(1.120)">6</span><span class="g" style="margin-left:5px;transform-origin:1.60px 50%;transform:translateX(0.00px) scaleX(1.120)">.</span><span class="g" style="margin-left:2px;transform-origin:3.20px 50%;transform:translateX(0.30px) scaleX(1.120)">5</span></div>
<div class="t f" style="left:4px;top:20.15px;font-size:11.4px;color:#000"><span class="g" style="margin-left:1px;transform-origin:2.85px 50%;transform:translateX(0.30px) scaleX(1.228)">x</span><span class="g" style="margin-left:3px;transform-origin:2.85px 50%;transform:translateX(0.80px) scaleX(1.228)">1</span><span class="g" style="margin-left:4px;transform-origin:2.85px 50%;transform:translateX(0.30px) scaleX(1.228)">0</span></div>
<div class="t s" style="left:29px;top:19.67px;font-size:7.3px;font-weight:normal;color:#111;transform:translateX(0.37px) scaleX(1.35)">4</div>
<div class="t f" style="left:1px;top:297.85px;font-size:11.4px;color:#000"><span class="g" style="margin-left:1px;transform-origin:2.85px 50%;transform:translateX(0.70px) scaleX(1.228)">x</span><span class="g" style="margin-left:4px;transform-origin:2.85px 50%;transform:translateX(0.20px) scaleX(1.228)">1</span><span class="g" style="margin-left:3px;transform-origin:2.85px 50%;transform:translateX(0.70px) scaleX(1.228)">0</span></div>
<div class="t s" style="left:27px;top:297.57px;font-size:7.3px;font-weight:normal;color:#111;transform:translateX(0.47px) scaleX(1.35)">4</div>
<div class="t f" style="left:124px;top:263.95px;font-size:12px;color:#000"><span class="g" style="margin-left:0px;transform-origin:4.33px 50%;transform:translateX(0.17px) scaleX(0.800)">C</span><span class="g" style="margin-left:4px;transform-origin:3.00px 50%;transform:translateX(0.56px) scaleX(1.133)">o</span><span class="g" style="margin-left:3px;transform-origin:3.34px 50%;transform:translateX(0.28px) scaleX(1.019)">u</span><span class="g" style="margin-left:3px;transform-origin:3.34px 50%;transform:translateX(0.34px) scaleX(1.019)">n</span><span class="g" style="margin-left:4px;transform-origin:2.00px 50%;transform:translateX(0.74px) scaleX(1.500)">t</span><span class="g" style="margin-left:3px;transform-origin:2.33px 50%;transform:translateX(0.47px) scaleX(1.450)">s</span></div>
<div class="t f" style="left:168px;top:263.95px;font-size:12px;color:#000"><span class="g" style="margin-left:1px;transform-origin:3.00px 50%;transform:translateX(0.40px) scaleX(1.133)">v</span><span class="g" style="margin-left:3px;transform-origin:2.33px 50%;transform:translateX(0.97px) scaleX(1.450)">s</span><span class="g" style="margin-left:3px;transform-origin:1.50px 50%;transform:translateX(0.70px) scaleX(1.500)">.</span></div>
<div class="t f" style="left:197px;top:263.95px;font-size:12px;color:#000"><span class="g" style="margin-left:-1px;transform-origin:4.33px 50%;transform:translateX(0.87px) scaleX(0.800)">A</span><span class="g" style="margin-left:5px;transform-origin:2.66px 50%;transform:translateX(0.69px) scaleX(1.277)">c</span><span class="g" style="margin-left:3px;transform-origin:3.34px 50%;transform:translateX(0.16px) scaleX(1.019)">q</span><span class="g" style="margin-left:3px;transform-origin:3.34px 50%;transform:translateX(0.31px) scaleX(1.019)">u</span><span class="g" style="margin-left:5px;transform-origin:1.67px 50%;transform:translateX(0.13px) scaleX(1.500)">i</span><span class="g" style="margin-left:2px;transform-origin:2.33px 50%;transform:translateX(0.62px) scaleX(1.450)">s</span><span class="g" style="margin-left:4px;transform-origin:1.67px 50%;transform:translateX(0.43px) scaleX(1.500)">i</span><span class="g" style="margin-left:3px;transform-origin:2.00px 50%;transform:translateX(0.25px) scaleX(1.500)">t</span><span class="g" style="margin-left:3px;transform-origin:1.67px 50%;transform:translateX(0.73px) scaleX(1.500)">i</span><span class="g" style="margin-left:2px;transform-origin:3.00px 50%;transform:translateX(0.55px) scaleX(1.133)">o</span><span class="g" style="margin-left:3px;transform-origin:3.34px 50%;transform:translateX(0.36px) scaleX(1.019)">n</span></div>
<div class="t f" style="left:275px;top:263.95px;font-size:12px;color:#000"><span class="g" style="margin-left:0px;transform-origin:4.00px 50%;transform:translateX(0.85px) scaleX(0.850)">T</span><span class="g" style="margin-left:6px;transform-origin:1.67px 50%;transform:translateX(0.33px) scaleX(1.500)">i</span><span class="g" style="margin-left:0px;transform-origin:5.00px 50%;transform:translateX(0.15px) scaleX(0.740)">m</span><span class="g" style="margin-left:5px;transform-origin:2.66px 50%;transform:translateX(0.64px) scaleX(1.277)">e</span></div>
<div class="t f" style="left:315px;top:263.95px;font-size:12px;color:#000"><span class="g" style="margin-left:2px;transform-origin:2.00px 50%;transform:translateX(0.90px) scaleX(1.200)">(</span><span class="g" style="margin-left:0px;transform-origin:5.00px 50%;transform:translateX(0.00px) scaleX(0.740)">m</span><span class="g" style="margin-left:7px;transform-origin:1.67px 50%;transform:translateX(0.13px) scaleX(1.500)">i</span><span class="g" style="margin-left:2px;transform-origin:3.34px 50%;transform:translateX(0.66px) scaleX(1.019)">n</span><span class="g" style="margin-left:6px;transform-origin:2.00px 50%;transform:translateX(0.60px) scaleX(1.200)">)</span></div>
<div class="t f" style="left:122px;top:541.65px;font-size:12px;color:#000"><span class="g" style="margin-left:-1px;transform-origin:4.33px 50%;transform:translateX(0.67px) scaleX(0.800)">C</span><span class="g" style="margin-left:5px;transform-origin:3.00px 50%;transform:translateX(0.06px) scaleX(1.133)">o</span><span class="g" style="margin-left:2px;transform-origin:3.34px 50%;transform:translateX(0.78px) scaleX(1.019)">u</span><span class="g" style="margin-left:3px;transform-origin:3.34px 50%;transform:translateX(0.84px) scaleX(1.019)">n</span><span class="g" style="margin-left:5px;transform-origin:2.00px 50%;transform:translateX(0.24px) scaleX(1.500)">t</span><span class="g" style="margin-left:2px;transform-origin:2.33px 50%;transform:translateX(0.97px) scaleX(1.450)">s</span></div>
<div class="t f" style="left:165px;top:541.65px;font-size:12px;color:#000"><span class="g" style="margin-left:1px;transform-origin:3.00px 50%;transform:translateX(0.90px) scaleX(1.133)">v</span><span class="g" style="margin-left:4px;transform-origin:2.33px 50%;transform:translateX(0.47px) scaleX(1.450)">s</span><span class="g" style="margin-left:3px;transform-origin:1.50px 50%;transform:translateX(0.20px) scaleX(1.500)">.</span></div>
<div class="t f" style="left:194px;top:541.65px;font-size:12px;color:#000"><span class="g" style="margin-left:0px;transform-origin:4.33px 50%;transform:translateX(0.37px) scaleX(0.800)">A</span><span class="g" style="margin-left:5px;transform-origin:2.66px 50%;transform:translateX(0.19px) scaleX(1.277)">c</span><span class="g" style="margin-left:2px;transform-origin:3.34px 50%;transform:translateX(0.66px) scaleX(1.019)">q</span><span class="g" style="margin-left:3px;transform-origin:3.34px 50%;transform:translateX(0.81px) scaleX(1.019)">u</span><span class="g" style="margin-left:5px;transform-origin:1.67px 50%;transform:translateX(0.63px) scaleX(1.500)">i</span><span class="g" style="margin-left:3px;transform-origin:2.33px 50%;transform:translateX(0.12px) scaleX(1.450)">s</span><span class="g" style="margin-left:3px;transform-origin:1.67px 50%;transform:translateX(0.93px) scaleX(1.500)">i</span><span class="g" style="margin-left:3px;transform-origin:2.00px 50%;transform:translateX(0.75px) scaleX(1.500)">t</span><span class="g" style="margin-left:4px;transform-origin:1.67px 50%;transform:translateX(0.23px) scaleX(1.500)">i</span><span class="g" style="margin-left:2px;transform-origin:3.00px 50%;transform:translateX(0.05px) scaleX(1.133)">o</span><span class="g" style="margin-left:2px;transform-origin:3.34px 50%;transform:translateX(0.86px) scaleX(1.019)">n</span></div>
<div class="t f" style="left:273px;top:541.65px;font-size:12px;color:#000"><span class="g" style="margin-left:0px;transform-origin:4.00px 50%;transform:translateX(0.35px) scaleX(0.850)">T</span><span class="g" style="margin-left:5px;transform-origin:1.67px 50%;transform:translateX(0.83px) scaleX(1.500)">i</span><span class="g" style="margin-left:0px;transform-origin:5.00px 50%;transform:translateX(0.65px) scaleX(0.740)">m</span><span class="g" style="margin-left:6px;transform-origin:2.66px 50%;transform:translateX(0.14px) scaleX(1.277)">e</span></div>
<div class="t f" style="left:313px;top:541.65px;font-size:12px;color:#000"><span class="g" style="margin-left:2px;transform-origin:2.00px 50%;transform:translateX(0.40px) scaleX(1.200)">(</span><span class="g" style="margin-left:-1px;transform-origin:5.00px 50%;transform:translateX(0.50px) scaleX(0.740)">m</span><span class="g" style="margin-left:7px;transform-origin:1.67px 50%;transform:translateX(0.63px) scaleX(1.500)">i</span><span class="g" style="margin-left:3px;transform-origin:3.34px 50%;transform:translateX(0.16px) scaleX(1.019)">n</span><span class="g" style="margin-left:6px;transform-origin:2.00px 50%;transform:translateX(0.10px) scaleX(1.200)">)</span></div>
</div>
</body></html>
